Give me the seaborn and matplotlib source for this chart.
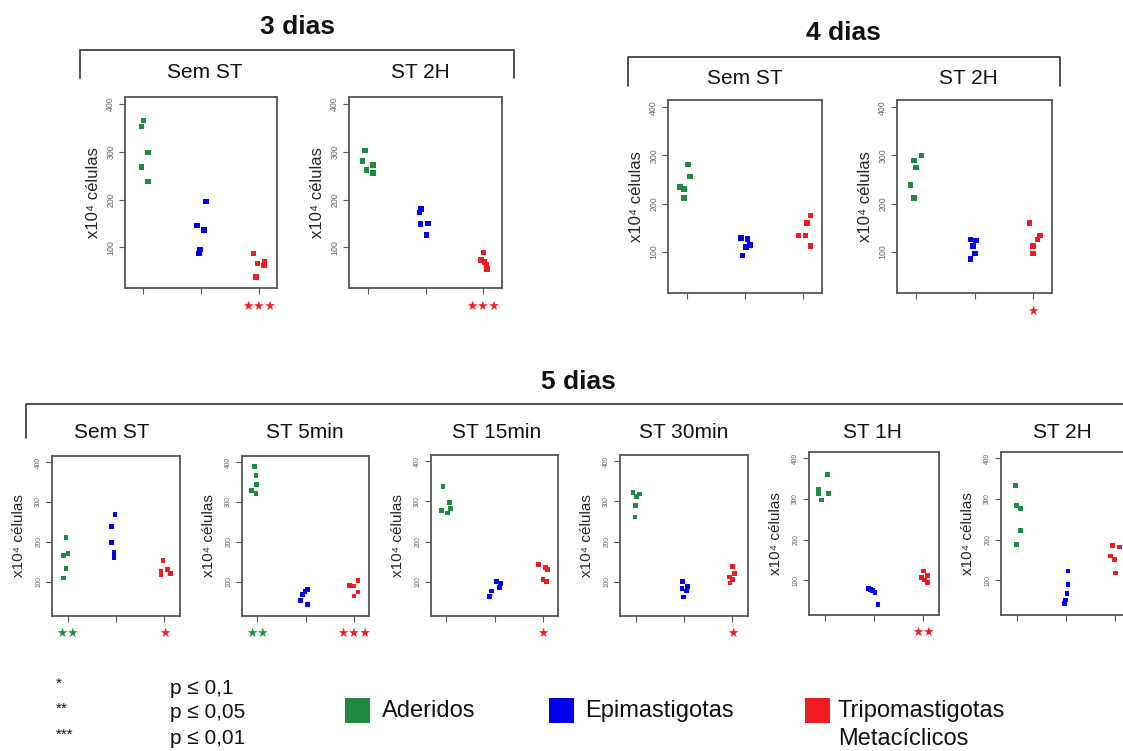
import numpy as np
import pandas as pd
import matplotlib
matplotlib.use("Agg")
import matplotlib.pyplot as plt
import seaborn as sns
from matplotlib.lines import Line2D
from matplotlib.patches import Rectangle

# ---------------- data ----------------
groups = ["Aderidos", "Epimastigotas", "Tripomastigotas Metacíclicos"]
colors = ["#1e8a42", "#0000f0", "#f01c24"]
y_ticks = [100, 200, 300, 400]

# values per panel: 5 Aderidos, 5 Epimastigotas, 5 Tripomastigotas
d3_sem_vals = [366, 353, 299, 268, 238, 196, 146, 136, 96, 87, 87, 66, 70, 62, 38]
d3_sem_dx = [0, -0.03, 0.08, -0.03, 0.08, 0.09, -0.07, 0.05, -0.02, -0.03, -0.09, -0.02, 0.1, 0.09, -0.04]
d3_2h_vals = [303, 281, 273, 262, 256, 181, 173, 149, 150, 126, 89, 74, 70, 63, 55]
d3_2h_dx = [-0.04, -0.09, 0.09, -0.02, 0.09, -0.08, -0.1, -0.09, 0.04, 0.02, 0, -0.04, 0.02, 0.05, 0.06]
d4_sem_vals = [281, 256, 235, 230, 212, 129, 127, 114, 110, 93, 176, 160, 134, 134, 112]
d4_sem_dx = [0.02, 0.06, -0.11, -0.05, -0.05, -0.07, 0.04, 0.09, 0.02, -0.04, 0.12, 0.06, -0.08, 0.04, 0.12]
d4_2h_vals = [300, 290, 275, 239, 212, 126, 124, 112, 97, 86, 160, 134, 126, 112, 97]
d4_2h_dx = [0.1, -0.03, 0, -0.09, -0.03, -0.07, 0.03, -0.03, 0.01, -0.07, -0.06, 0.12, 0.07, 0, 0]
d5_sem_vals = [211, 172, 166, 133, 110, 268, 238, 199, 174, 161, 154, 127, 131, 118, 122]
d5_sem_dx = [-0.03, 0.01, -0.09, -0.03, -0.08, -0.02, -0.09, -0.09, -0.04, -0.04, -0.03, -0.07, 0.07, -0.07, 0.12]
d5_5m_vals = [388, 367, 344, 328, 322, 82, 77, 68, 53, 44, 103, 92, 90, 75, 65]
d5_5m_dx = [-0.06, -0.03, -0.02, -0.12, -0.03, 0.05, -0.01, -0.06, -0.1, 0.05, 0.09, -0.08, -0.01, 0.09, 0.01]
d5_15m_vals = [336, 297, 277, 282, 271, 100, 96, 86, 77, 63, 142, 136, 131, 106, 100]
d5_15m_dx = [-0.07, 0.06, -0.11, 0.08, 0.03, 0.05, 0.13, 0.1, -0.06, -0.1, -0.09, 0.06, 0.1, 0.01, 0.08]
d5_30m_vals = [321, 318, 311, 289, 261, 100, 89, 83, 77, 62, 137, 121, 112, 106, 97]
d5_30m_dx = [-0.05, 0.09, 0.02, 0, -0.01, -0.03, 0.08, -0.04, 0.05, -0.01, 0, 0.04, -0.06, 0, -0.05]
d5_1h_vals = [359, 322, 312, 313, 297, 81, 78, 75, 71, 41, 123, 112, 108, 101, 94]
d5_1h_dx = [0.05, -0.13, -0.13, 0.07, -0.06, -0.11, -0.07, -0.03, 0.02, 0.08, 0, 0.08, -0.04, 0.03, 0.08]
d5_2h_vals = [333, 283, 277, 223, 188, 123, 90, 67, 52, 44, 185, 182, 160, 151, 118]
d5_2h_dx = [-0.02, 0, 0.08, 0.08, 0, 0.04, 0.04, 0.02, -0.01, -0.03, -0.05, 0.08, -0.09, -0.01, 0.01]

# significance marks: (group index, stars)
stars_d3_sem = [(2, "★★★")]
stars_d3_2h = [(2, "★★★")]
stars_d4_sem = []
stars_d4_2h = [(2, "★")]
stars_d5_sem = [(0, "★★"), (2, "★")]
stars_d5_5m = [(0, "★★"), (2, "★★★")]
stars_d5_15m = [(2, "★")]
stars_d5_30m = [(2, "★")]
stars_d5_1h = [(2, "★★")]
stars_d5_2h = []

day_titles = ["3 dias", "4 dias", "5 dias"]
sub_d3 = ["Sem ST", "ST 2H"]
sub_d4 = ["Sem ST", "ST 2H"]
sub_d5 = ["Sem ST", "ST 5min", "ST 15min", "ST 30min", "ST 1H", "ST 2H"]
pval_marks = ["*", "**", "***"]
pval_texts = ["p ≤ 0,1", "p ≤ 0,05", "p ≤ 0,01"]

# ---------------- style ----------------
sns.set_style("white")
FAM = ["Liberation Sans", "DejaVu Sans"]
plt.rcParams["font.family"] = FAM
palette = dict(zip(groups, colors))

W, H = 1123, 751
fig = plt.figure(figsize=(W / 100, H / 100), dpi=100)


def fx(x):
    return x / W


def fy(y):
    return 1 - y / H


def rect(l, t, r, b):
    return [l / W, 1 - b / H, (r - l) / W, (b - t) / H]


def panel(box, vals, dx, stars, big):
    ax = fig.add_axes(rect(*box))
    grp = np.repeat(groups, 5)
    pos = np.array([groups.index(g) + 1 for g in grp]) + np.array(dx)
    df = pd.DataFrame({"pos": pos, "val": vals, "grp": grp})
    sns.scatterplot(data=df, x="pos", y="val", hue="grp", palette=palette,
                    marker="s", s=16 if big else 12, linewidth=0, legend=False, ax=ax)
    ax.set_xlim(0.68, 3.32)
    ax.set_ylim(15, 415)
    ax.set_xticks([1, 2, 3])
    ax.set_xticklabels([])
    ax.set_yticks(y_ticks)
    ax.set_yticklabels([str(t) for t in y_ticks], rotation=90, va="center",
                       fontsize=6.3 if big else 4.8, color="#666666")
    ax.tick_params(axis="both", length=4, width=0.8, color="#555555", pad=3,
                   bottom=True, left=True)
    ax.set_xlabel("")
    ax.set_ylabel("x10⁴ células", fontsize=12 if big else 11, family=FAM,
                  labelpad=4 if big else 7)
    for sp in ax.spines.values():
        sp.set_color("#555555")
        sp.set_linewidth(1.3)
    for gi, s in stars:
        ax.annotate(s, xy=(gi + 1, 0), xycoords=("data", "axes fraction"),
                    xytext=(0, -18 if big else -17), textcoords="offset pixels",
                    ha="center", va="center", fontsize=9, family=["DejaVu Sans"],
                    color=colors[gi], annotation_clip=False)
    return ax


panel((125, 97, 277, 288), d3_sem_vals, d3_sem_dx, stars_d3_sem, True)
panel((349, 97, 502, 288), d3_2h_vals, d3_2h_dx, stars_d3_2h, True)
panel((668, 100, 822, 293), d4_sem_vals, d4_sem_dx, stars_d4_sem, True)
panel((897, 100, 1052, 293), d4_2h_vals, d4_2h_dx, stars_d4_2h, True)
panel((52, 456, 180, 616), d5_sem_vals, d5_sem_dx, stars_d5_sem, False)
panel((242, 456, 369, 616), d5_5m_vals, d5_5m_dx, stars_d5_5m, False)
panel((431, 455, 558, 616), d5_15m_vals, d5_15m_dx, stars_d5_15m, False)
panel((620, 455, 748, 616), d5_30m_vals, d5_30m_dx, stars_d5_30m, False)
panel((809, 452, 939, 615), d5_1h_vals, d5_1h_dx, stars_d5_1h, False)
panel((1001, 452, 1131, 615), d5_2h_vals, d5_2h_dx, stars_d5_2h, False)

# ---------------- brackets & titles ----------------
def line(xs, ys):
    fig.add_artist(Line2D([fx(x) for x in xs], [fy(y) for y in ys],
                          color="#444444", lw=1.3))


line([80, 80, 514, 514], [78, 50, 50, 78])
line([628, 628, 1060, 1060], [86, 57, 57, 86])
line([26, 26, 1130], [438, 404, 404])

for t, (x, y) in zip(day_titles, [(297, 27), (843, 33), (578, 382)]):
    fig.text(fx(x), fy(y), t, ha="center", va="center", fontsize=19,
             fontweight="bold", color="#111111")

for t, x in zip(sub_d3, [205, 420]):
    fig.text(fx(x), fy(73), t, ha="center", va="center", fontsize=15, color="#111111")
for t, x in zip(sub_d4, [745, 968]):
    fig.text(fx(x), fy(79), t, ha="center", va="center", fontsize=15, color="#111111")
for t, x in zip(sub_d5, [112, 305, 497, 684, 872, 1062]):
    fig.text(fx(x), fy(432), t, ha="center", va="center", fontsize=15, color="#111111")

# ---------------- legend ----------------
for m, p, y in zip(pval_marks, pval_texts, [688, 713, 739]):
    fig.text(fx(56), fy(y - 4), m, ha="left", va="center", fontsize=11, color="#111111")
    fig.text(fx(170), fy(y), p, ha="left", va="center", fontsize=15, color="#111111")

for c, x in zip(colors, [345, 549, 805]):
    fig.add_artist(Rectangle((fx(x), fy(723)), 25 / W, 25 / H,
                             transform=fig.transFigure, facecolor=c, edgecolor="none"))
fig.text(fx(382), fy(711), groups[0], ha="left", va="center", fontsize=17, color="#111111")
fig.text(fx(585), fy(711), groups[1], ha="left", va="center", fontsize=17, color="#111111")
trip, meta = groups[2].split(" ")
fig.text(fx(838), fy(711), trip, ha="left", va="center", fontsize=17, color="#111111")
fig.text(fx(838), fy(739), meta, ha="left", va="center", fontsize=17, color="#111111")

fig.savefig("out.png", dpi=100)
